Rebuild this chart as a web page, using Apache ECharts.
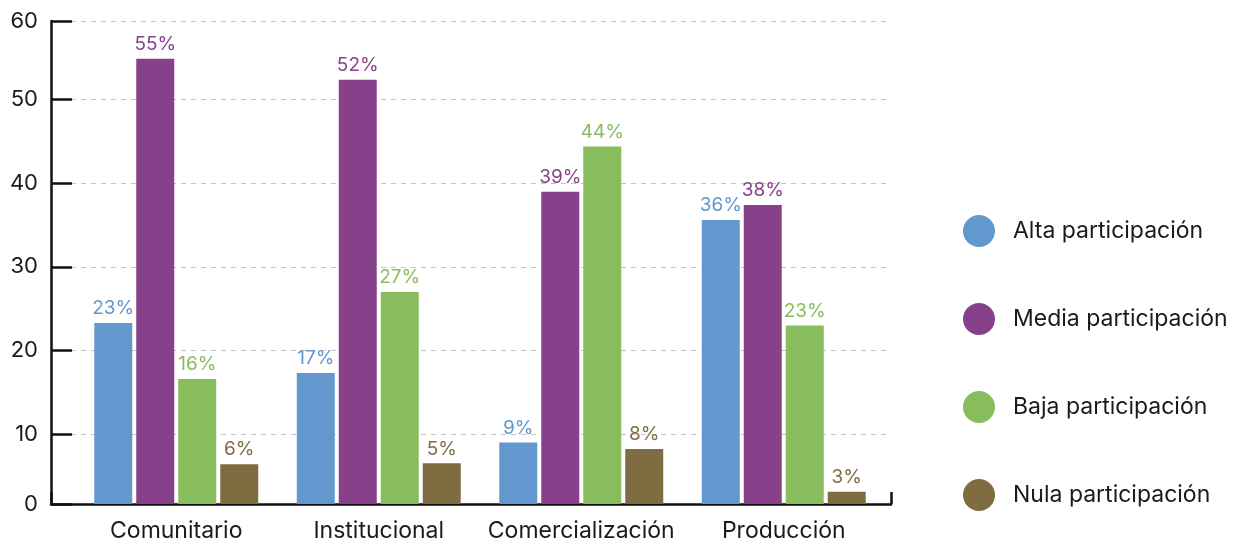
<!DOCTYPE html>
<html>
<head>
<meta charset="utf-8">
<script src="https://cdn.jsdelivr.net/npm/echarts@6/dist/echarts.min.js"></script>
<style>
html,body{margin:0;padding:0;background:#fff;}
#chart{width:1237px;height:544px;}
</style>
</head>
<body>
<div id="chart"></div>
<script>
const categories = ['Comunitario', 'Institucional', 'Comercialización', 'Producción'];
const seriesNames = ['Alta participación', 'Media participación', 'Baja participación', 'Nula participación'];
const altaValues  = [23.3, 17.3, 9.0, 35.6];
const mediaValues = [54.9, 52.4, 39.0, 37.4];
const bajaValues  = [16.6, 27.0, 44.4, 23.0];
const nulaValues  = [6.4, 6.5, 8.2, 3.1];
const altaLabels  = ['23%', '17%', '9%', '36%'];
const mediaLabels = ['55%', '52%', '39%', '38%'];
const bajaLabels  = ['16%', '27%', '44%', '23%'];
const nulaLabels  = ['6%', '5%', '8%', '3%'];
const yAxisMin = 1.63;
const yAxisMax = 59.42;
const yTickValues = [1.63, 10, 20, 30, 40, 50, 59.42];
const yTickLabels = ['0', '10', '20', '30', '40', '50', '60'];

const colors = ['#6298CE', '#87418A', '#88BD5E', '#806C41'];
const FONT = 'Inter';
const values = [altaValues, mediaValues, bajaValues, nulaValues];
const labels = [altaLabels, mediaLabels, bajaLabels, nulaLabels];

const chart = echarts.init(document.getElementById('chart'), null, {renderer: 'canvas'});

const series = seriesNames.map((name, s) => ({
  name: name,
  type: 'bar',
  xAxisIndex: 1,
  yAxisIndex: 1,
  barWidth: 38,
  barGap: '10.5%',
  itemStyle: {color: colors[s]},
  label: {
    show: true,
    position: 'top',
    distance: 5,
    color: colors[s],
    fontFamily: FONT,
    fontSize: 19,
    formatter: (p) => labels[s][p.dataIndex]
  },
  data: values[s]
}));

chart.setOption({
  animation: false,
  textStyle: {fontFamily: FONT},
  color: colors,
  legend: {
    orient: 'vertical',
    left: 963,
    top: 215,
    padding: 0,
    icon: 'circle',
    itemWidth: 32,
    itemHeight: 32,
    itemGap: 56,
    textStyle: {fontFamily: FONT, fontSize: 23, color: '#1a1a1a', padding: [0, 0, 0, 13]},
    data: seriesNames
  },
  grid: [
    {left: 51, top: 21, width: 840, height: 483},
    {left: 75, top: 21, width: 810, height: 483}
  ],
  xAxis: [
    {
      type: 'category',
      gridIndex: 0,
      data: [''],
      boundaryGap: true,
      axisLine: {show: true, lineStyle: {color: '#111', width: 2.5}},
      axisTick: {show: true, inside: true, length: 12, lineStyle: {color: '#111', width: 2.5}},
      axisLabel: {show: false},
      splitLine: {show: false}
    },
    {
      type: 'category',
      gridIndex: 1,
      data: categories,
      axisLine: {show: false},
      axisTick: {show: false},
      axisLabel: {color: '#1a1a1a', fontFamily: FONT, fontSize: 23, margin: 16, interval: 0, hideOverlap: false}
    }
  ],
  yAxis: [
    {
      type: 'value',
      gridIndex: 0,
      min: yAxisMin,
      max: yAxisMax,
      axisLine: {show: true, lineStyle: {color: '#111', width: 2.5}},
      axisTick: {show: true, inside: true, length: 21, customValues: yTickValues, lineStyle: {color: '#111', width: 2.5}},
      axisLabel: {
        customValues: yTickValues,
        color: '#1a1a1a', fontFamily: FONT, fontSize: 22, margin: 13,
        formatter: (v) => {
          const i = yTickValues.indexOf(v);
          return i >= 0 ? yTickLabels[i] : '';
        }
      },
      splitLine: {show: true, lineStyle: {color: '#c4c4c4', type: [5, 5], width: 1}}
    },
    {
      type: 'value',
      gridIndex: 1,
      min: yAxisMin,
      max: yAxisMax,
      show: false,
      splitLine: {show: false}
    }
  ],
  series: series
});
</script>
</body>
</html>
